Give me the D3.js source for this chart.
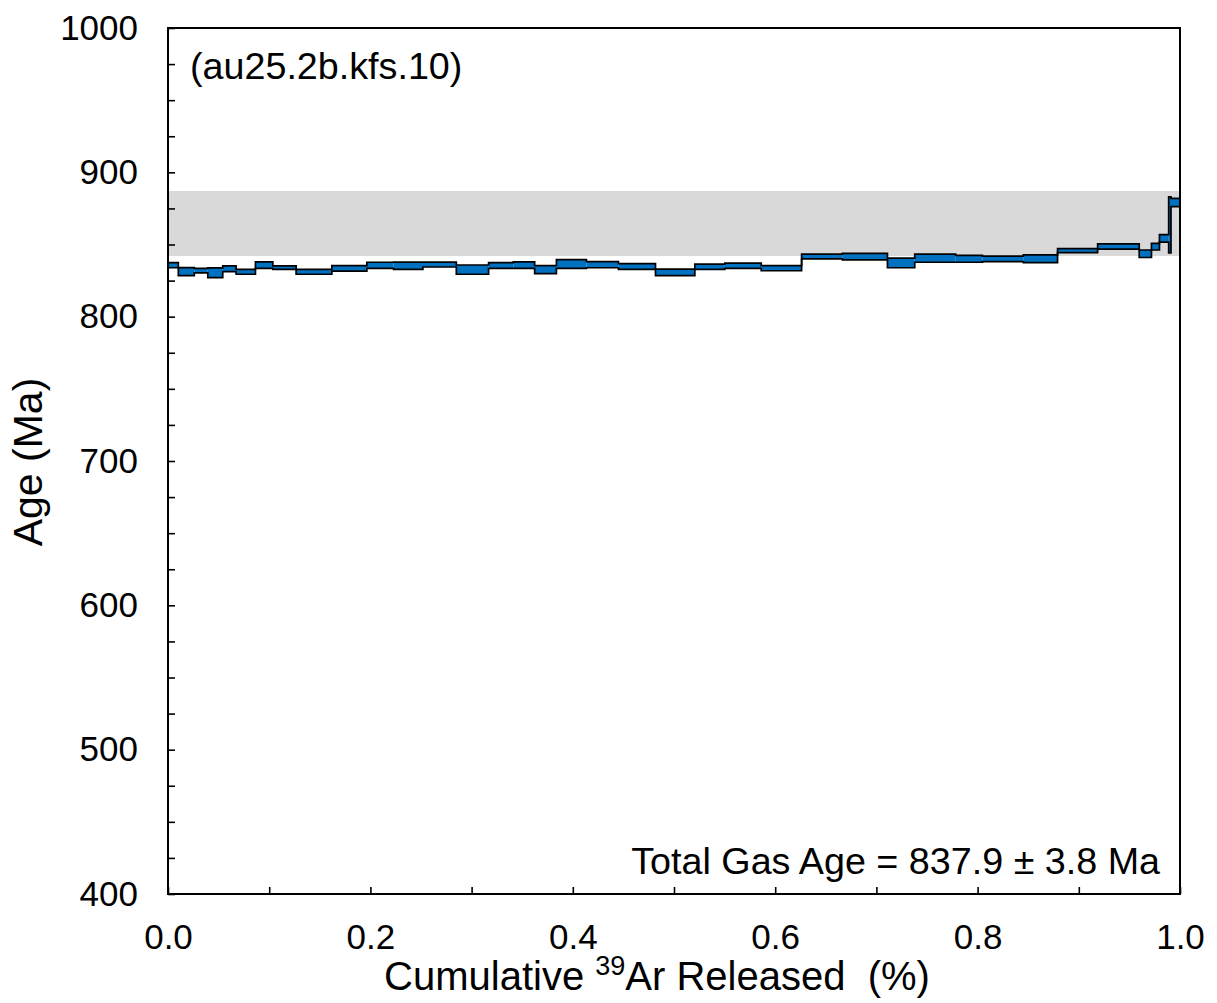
<!DOCTYPE html>
<html>
<head>
<meta charset="utf-8">
<script src="https://cdn.jsdelivr.net/npm/d3@7"></script>
<style>
  html, body { margin: 0; padding: 0; background: #fff; }
  svg { display: block; }
  text { font-family: "Liberation Sans", Arial, sans-serif; fill: #000; }
</style>
</head>
<body>
<svg id="chart" width="1217" height="1003"></svg>
<script>
// Cumulative 39Ar fraction at the start of each heating step (last value closes the spectrum)
const stepEdges = [0, 0.0102, 0.0260, 0.0393, 0.0541, 0.0673, 0.0864, 0.1036, 0.1266, 0.1619,
  0.1965, 0.2229, 0.2519, 0.2849, 0.3168, 0.3412, 0.3623, 0.3838, 0.4135, 0.4451,
  0.4817, 0.5206, 0.5502, 0.5862, 0.6261, 0.6664, 0.7109, 0.7379, 0.7784, 0.8048,
  0.8452, 0.8790, 0.9186, 0.9597, 0.9718, 0.9797, 0.9888, 0.9911, 1.0];

// Apparent age of each step (Ma)
const stepAges = [835.7, 831.2, 831.9, 830.4, 833.2, 831.1, 835.7, 834.0, 831.1, 833.5,
  835.6, 835.3, 836.1, 832.6, 835.5, 835.7, 832.6, 836.5, 836.0, 834.8,
  830.7, 834.6, 835.3, 833.6, 841.7, 841.6, 837.2, 840.5, 840.1, 840.0,
  840.1, 845.8, 848.6, 843.6, 848.5, 854.3, 863.6, 879.1];

// Age uncertainty of each step (± Ma)
const stepErrors = [1.8, 2.8, 1.6, 3.4, 2.0, 1.7, 2.2, 1.2, 1.7, 1.9,
  2.1, 2.5, 1.7, 3.2, 2.0, 2.2, 2.8, 3.0, 2.1, 2.0,
  2.3, 1.8, 1.8, 1.8, 1.7, 2.3, 3.3, 2.8, 2.4, 1.9,
  2.7, 1.4, 1.8, 2.6, 2.3, 2.6, 19.5, 2.9];

// Shaded reference age band (Ma)
const bandAges = [842.0, 887.1];

// Axis ticks
const yTickValues = [400, 500, 600, 700, 800, 900, 1000];
const xTickValues = [0.0, 0.2, 0.4, 0.6, 0.8, 1.0];

const sampleLabel = "(au25.2b.kfs.10)";
const totalGasLabel = "Total Gas Age = 837.9 \u00B1 3.8 Ma";

const svg = d3.select("#chart");
const plotLeft = 168, plotRight = 1180, plotTop = 28, plotBottom = 894;

const x = d3.scaleLinear().domain([0, 1]).range([plotLeft, plotRight]);
const y = d3.scaleLinear().domain([400, 1000]).range([plotBottom, plotTop]);

const steps = stepAges.map((a, i) => ({
  x0: stepEdges[i], x1: stepEdges[i + 1], hi: a + stepErrors[i], lo: a - stepErrors[i]
}));

// Reference band
svg.append("rect")
  .attr("x", x(0)).attr("width", x(1) - x(0))
  .attr("y", y(bandAges[1])).attr("height", y(bandAges[0]) - y(bandAges[1]))
  .attr("fill", "#d9d9d9");

// Step boxes
svg.append("g").selectAll("rect").data(steps).join("rect")
  .attr("x", d => x(d.x0))
  .attr("width", d => x(d.x1) - x(d.x0))
  .attr("y", d => y(d.hi))
  .attr("height", d => y(d.lo) - y(d.hi))
  .attr("fill", "#0070c0");

// Upper and lower envelopes as step lines
const envLine = d3.line().x(d => x(d[0])).y(d => y(d[1])).curve(d3.curveStepAfter);
const upper = steps.map(d => [d.x0, d.hi]).concat([[1, steps[steps.length - 1].hi]]);
const lower = steps.map(d => [d.x0, d.lo]).concat([[1, steps[steps.length - 1].lo]]);
[upper, lower].forEach(pts => {
  svg.append("path").attr("d", envLine(pts))
    .attr("fill", "none").attr("stroke", "#000").attr("stroke-width", 1.7);
});

// Axes with inward ticks
const yAxis = d3.axisLeft(y)
  .tickValues(d3.range(400, 1001, 25))
  .tickSizeInner(-7).tickSizeOuter(0).tickPadding(30)
  .tickFormat(d => yTickValues.includes(d) ? d3.format("d")(d) : "");
const gy = svg.append("g").attr("transform", `translate(${plotLeft},0)`).call(yAxis);

const xAxis = d3.axisBottom(x)
  .tickValues(d3.range(0, 11).map(i => i / 10))
  .tickSizeInner(-7).tickSizeOuter(0).tickPadding(30)
  .tickFormat(d => xTickValues.some(v => Math.abs(v - d) < 1e-9) ? d3.format(".1f")(d) : "");
const gx = svg.append("g").attr("transform", `translate(0,${plotBottom})`).call(xAxis);

[gx, gy].forEach(g => {
  g.selectAll(".domain").remove();
  g.selectAll(".tick line").attr("stroke", "#000").attr("stroke-width", 1.6);
  g.selectAll(".tick text").attr("font-size", 35).attr("font-family", "Liberation Sans, Arial, sans-serif");
});

// Plot frame
svg.append("rect")
  .attr("x", plotLeft).attr("y", plotTop)
  .attr("width", plotRight - plotLeft).attr("height", plotBottom - plotTop)
  .attr("fill", "none").attr("stroke", "#000").attr("stroke-width", 2);

// Annotations
svg.append("text").attr("x", 190).attr("y", 79)
  .attr("font-size", 37.7).text(sampleLabel);
svg.append("text").attr("x", 1160).attr("y", 874)
  .attr("text-anchor", "end").attr("font-size", 37.7).text(totalGasLabel);

// Axis titles
const xt = svg.append("text").attr("x", 657).attr("y", 990)
  .attr("text-anchor", "middle").attr("font-size", 40)
  .attr("xml:space", "preserve").style("white-space", "pre");
xt.append("tspan").text("Cumulative ");
xt.append("tspan").attr("font-size", 27).attr("dy", -15).text("39");
xt.append("tspan").attr("dy", 15).text("Ar Released  (%)");

svg.append("text")
  .attr("transform", "translate(42,462) rotate(-90)")
  .attr("text-anchor", "middle").attr("font-size", 41).text("Age (Ma)");
</script>
</body>
</html>
